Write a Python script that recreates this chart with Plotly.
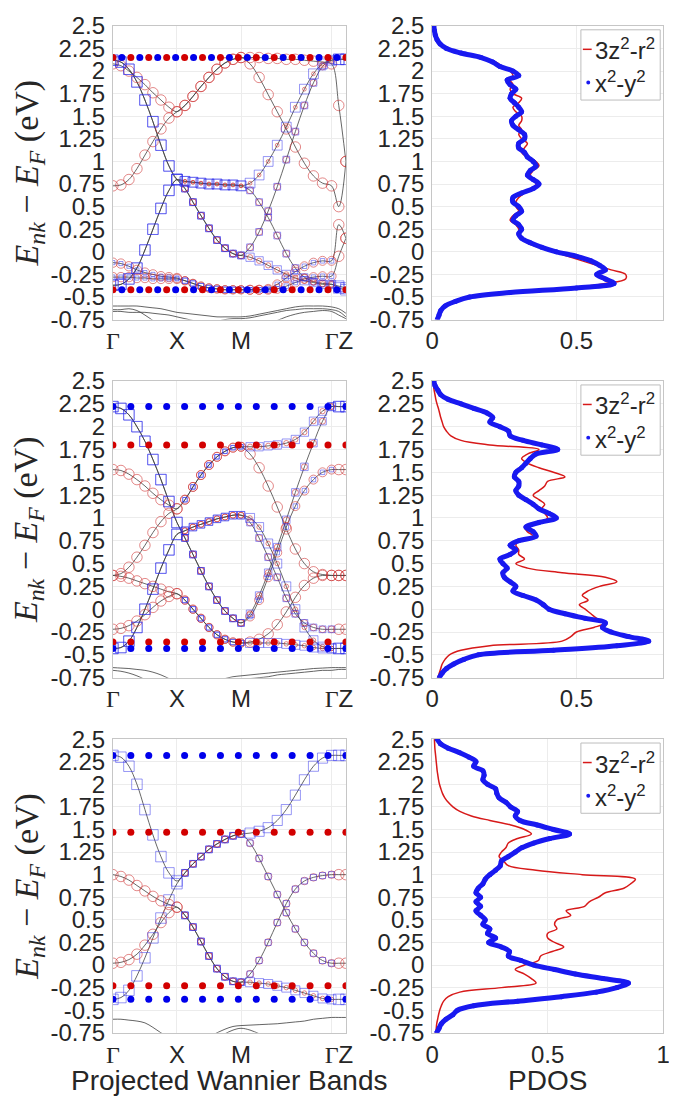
import numpy as np
import plotly.graph_objects as go

PAGE_W, PAGE_H = 677, 1118
BODY = 8                      # default page margin around the plot div
W, H = PAGE_W - BODY, PAGE_H - BODY

# ---------------- k-path Γ-X-M-Γ-Z (9 + 8 + 10 + 2 samples) ----------------
GZ_LEN = 0.224
K_GRID = np.concatenate([np.linspace(0, 1, 9), np.linspace(1, 2, 9)[1:],
                         2 + np.sqrt(2) * np.linspace(0, 1, 11)[1:],
                         2 + np.sqrt(2) + GZ_LEN * np.array([0.5, 1.0])])
K_END = 2 + np.sqrt(2) + GZ_LEN
SEG = np.repeat([0, 1, 2, 3], [9, 8, 10, 2])
GAMMA = '<span style="font-family:Liberation Serif">Γ</span>'
K_TICKS = [0, 1, 2, 2 + np.sqrt(2), K_END]
K_TICK_TEXT = [GAMMA, "X", "M", GAMMA, "Z"]

E_TICKS = [-0.75, -0.5, -0.25, 0, 0.25, 0.5, 0.75, 1, 1.25, 1.5, 1.75, 2, 2.25, 2.5]
E_TICK_TEXT = ["-0.75", "-0.5", "-0.25", "0", "0.25", "0.5", "0.75", "1", "1.25",
               "1.5", "1.75", "2", "2.25", "2.5"]

# ---------------- row 1 bands ----------------
r1_red_a = [0.73, 0.74, 0.8, 0.92, 1.07, 1.22, 1.36, 1.48, 1.55,
            1.62, 1.72, 1.83, 1.93, 2.02, 2.09, 2.13, 2.15,
            2.15, 2.15, 2.14, 2.14, 2.13, 2.13, 2.12, 2.11, 2.1, 2.08,
            1.62, 1.0]
r1_red_b = [2.08, 2.06, 2.0, 1.93, 1.85, 1.76, 1.68, 1.6, 1.55,
            1.62, 1.72, 1.83, 1.93, 2.02, 2.09, 2.13, 2.15,
            2.08, 1.93, 1.74, 1.55, 1.36, 1.16, 0.98, 0.84, 0.76, 0.73,
            0.5, 1.0]
r1_red_c = [-0.12, -0.13, -0.16, -0.2, -0.23, -0.25, -0.27, -0.28, -0.29,
            -0.32, -0.35, -0.38, -0.4, -0.41, -0.42, -0.42, -0.42,
            -0.42, -0.42, -0.41, -0.36, -0.29, -0.22, -0.16, -0.12, -0.1, -0.1,
            0.3, 0.15]
r1_red_d = [-0.28, -0.28, -0.28, -0.29, -0.29, -0.3, -0.3, -0.3, -0.3,
            -0.32, -0.35, -0.38, -0.4, -0.41, -0.42, -0.42, -0.42,
            -0.42, -0.42, -0.42, -0.41, -0.38, -0.34, -0.3, -0.28, -0.27, -0.27,
            -0.05, 0.15]
r1_blue_a = [2.12, 2.1, 2.02, 1.88, 1.68, 1.44, 1.18, 0.95, 0.8,
             0.78, 0.77, 0.76, 0.75, 0.75, 0.74, 0.74, 0.73,
             0.76, 0.85, 1.0, 1.18, 1.38, 1.6, 1.8, 1.97, 2.08, 2.12,
             2.13, 2.13]
r1_blue_b = [2.12, 2.1, 2.02, 1.88, 1.68, 1.44, 1.18, 0.95, 0.8,
             0.7, 0.55, 0.4, 0.26, 0.13, 0.04, -0.02, -0.04,
             0.05, 0.22, 0.45, 0.72, 1.02, 1.33, 1.62, 1.87, 2.05, 2.12,
             2.13, 2.13]
r1_blue_c = [-0.37, -0.36, -0.3, -0.18, 0.02, 0.25, 0.48, 0.68, 0.8,
             0.78, 0.77, 0.76, 0.75, 0.75, 0.74, 0.74, 0.73,
             0.68, 0.55, 0.38, 0.18, -0.02, -0.18, -0.28, -0.33, -0.35, -0.36,
             -0.38, -0.4]
r1_blue_d = [-0.37, -0.36, -0.3, -0.18, 0.02, 0.25, 0.48, 0.68, 0.8,
             0.7, 0.55, 0.4, 0.26, 0.13, 0.04, -0.02, -0.04,
             -0.06, -0.1, -0.15, -0.2, -0.25, -0.29, -0.32, -0.34, -0.36, -0.36,
             -0.4, -0.42]
# 3z2-r2 weight per segment (ΓX, XM, MΓ, ΓZ)
r1_weights = [[1, 1, 1, 1], [1, 1, 1, 1], [0.85, 0.7, 0.8, 1], [0.85, 0.7, 0.8, 1],
              [0, 0.1, 0.1, 0], [0, 0.5, 0.5, 0], [0, 0.1, 0.5, 0], [0, 0.5, 0.3, 0]]
r1_low_a = [-0.6, -0.6, -0.6, -0.6, -0.61, -0.62, -0.63, -0.65, -0.67,
            -0.68, -0.69, -0.7, -0.71, -0.72, -0.72, -0.72, -0.72,
            -0.71, -0.69, -0.67, -0.65, -0.63, -0.61, -0.6, -0.6, -0.6, -0.61,
            -0.63, -0.68]
r1_low_b = [-0.64, -0.64, -0.63, -0.65, -0.7, -0.76, -0.82, -0.88, -0.9,
            -0.9, -0.88, -0.85, -0.8, -0.77, -0.75, -0.74, -0.74,
            -0.73, -0.71, -0.69, -0.67, -0.65, -0.64, -0.63, -0.63, -0.63, -0.64,
            -0.66, -0.72]
r1_low_c = [-0.66, -0.66, -0.67, -0.67, -0.67, -0.68, -0.69, -0.7, -0.72,
            -0.74, -0.76, -0.78, -0.8, -0.82, -0.84, -0.85, -0.86,
            -0.85, -0.82, -0.79, -0.76, -0.72, -0.69, -0.67, -0.66, -0.65, -0.66,
            -0.7, -0.74]
r1_red_levels = [2.15, -0.42]
r1_blue_levels = [2.15, -0.42]

# ---------------- row 2 bands ----------------
r2_band_1 = [2.22, 2.2, 2.13, 2.0, 1.84, 1.64, 1.42, 1.18, 0.95,
             0.78, 0.6, 0.42, 0.25, 0.1, -0.02, -0.1, -0.15,
             -0.05, 0.15, 0.4, 0.68, 0.98, 1.28, 1.56, 1.82, 2.06, 2.22,
             2.22, 2.22]
r2_band_2 = [2.22, 2.2, 2.13, 2.0, 1.84, 1.64, 1.42, 1.18, 0.95,
             0.78, 0.6, 0.42, 0.25, 0.1, -0.02, -0.1, -0.15,
             -0.08, 0.1, 0.35, 0.62, 0.9, 1.13, 1.3, 1.42, 1.5, 1.53,
             1.53, 1.53]
r2_band_3 = [-0.43, -0.42, -0.35, -0.2, 0.0, 0.22, 0.45, 0.65, 0.82,
             0.86, 0.9, 0.93, 0.96, 0.99, 1.01, 1.03, 1.03,
             0.95, 0.78, 0.57, 0.35, 0.12, -0.05, -0.15, -0.2, -0.22, -0.22,
             -0.22, -0.22]
r2_band_4 = [-0.43, -0.42, -0.35, -0.2, 0.0, 0.22, 0.45, 0.65, 0.82,
             0.86, 0.9, 0.93, 0.96, 0.99, 1.01, 1.03, 1.03,
             1.0, 0.9, 0.72, 0.5, 0.25, 0.0, -0.2, -0.34, -0.41, -0.43,
             -0.43, -0.43]
r2_band_5 = [1.53, 1.52, 1.48, 1.42, 1.35, 1.27, 1.2, 1.14, 1.1,
             1.2, 1.34, 1.47, 1.58, 1.67, 1.73, 1.77, 1.78,
             1.78, 1.78, 1.79, 1.8, 1.82, 1.86, 1.94, 2.06, 2.17, 2.22,
             2.22, 2.22]
r2_band_6 = [0.37, 0.39, 0.46, 0.57, 0.7, 0.84, 0.96, 1.05, 1.1,
             1.2, 1.34, 1.47, 1.58, 1.67, 1.73, 1.77, 1.78,
             1.7, 1.55, 1.35, 1.12, 0.88, 0.66, 0.5, 0.41, 0.38, 0.37,
             0.37, 0.37]
r2_band_7 = [0.37, 0.36, 0.34, 0.31, 0.28, 0.25, 0.22, 0.19, 0.17,
             0.1, 0.0, -0.1, -0.2, -0.28, -0.33, -0.36, -0.37,
             -0.37, -0.37, -0.37, -0.37, -0.38, -0.39, -0.4, -0.42, -0.43, -0.43,
             -0.43, -0.43]
r2_band_8 = [-0.22, -0.21, -0.18, -0.13, -0.06, 0.02, 0.09, 0.14, 0.17,
             0.1, 0.0, -0.1, -0.2, -0.28, -0.33, -0.36, -0.37,
             -0.36, -0.33, -0.27, -0.17, -0.03, 0.13, 0.26, 0.34, 0.37, 0.37,
             0.37, 0.37]
r2_weights = [[0, 0.5, 0.4, 0], [0, 0.5, 0.8, 1], [0, 0.4, 0.5, 1], [0, 0.4, 0.2, 0],
              [1, 0.8, 0.3, 0], [1, 0.8, 1, 1], [1, 0.7, 0.2, 0], [1, 0.7, 1, 1]]
r2_low_a = [-0.64, -0.645, -0.65, -0.66, -0.67, -0.69, -0.72, -0.76, -0.8,
            -0.82, -0.82, -0.81, -0.8, -0.78, -0.76, -0.74, -0.73,
            -0.72, -0.71, -0.7, -0.69, -0.68, -0.67, -0.66, -0.65, -0.645, -0.64,
            -0.64, -0.64]
r2_low_b = [-0.67, -0.68, -0.7, -0.73, -0.77, -0.82, -0.86, -0.9, -0.92,
            -0.92, -0.9, -0.87, -0.84, -0.81, -0.78, -0.77, -0.76,
            -0.76, -0.75, -0.74, -0.72, -0.71, -0.7, -0.69, -0.68, -0.67, -0.67,
            -0.66, -0.66]
r2_red_levels = [1.80, -0.36]
r2_blue_levels = [2.22, -0.43]

# ---------------- row 3 bands ----------------
r3_band_1 = [2.32, 2.3, 2.2, 2.0, 1.72, 1.44, 1.2, 1.02, 0.93,
             1.02, 1.12, 1.2, 1.28, 1.34, 1.39, 1.43, 1.45,
             1.46, 1.48, 1.52, 1.6, 1.72, 1.88, 2.05, 2.2, 2.29, 2.32,
             2.32, 2.32]
r3_band_2 = [-0.38, -0.36, -0.28, -0.12, 0.08, 0.3, 0.52, 0.72, 0.9,
             1.02, 1.12, 1.2, 1.28, 1.34, 1.39, 1.43, 1.45,
             1.35, 1.18, 0.98, 0.78, 0.58, 0.4, 0.25, 0.13, 0.05, 0.02,
             0.02, 0.02]
r3_band_3 = [1.0, 0.98, 0.94, 0.88, 0.82, 0.76, 0.71, 0.67, 0.64,
             0.55, 0.42, 0.26, 0.1, -0.04, -0.13, -0.18, -0.19,
             -0.1, 0.05, 0.25, 0.47, 0.68, 0.84, 0.93, 0.97, 0.99, 1.0,
             1.0, 1.0]
r3_band_4 = [0.02, 0.03, 0.06, 0.12, 0.22, 0.34, 0.47, 0.58, 0.64,
             0.55, 0.42, 0.26, 0.1, -0.04, -0.13, -0.18, -0.19,
             -0.19, -0.2, -0.21, -0.23, -0.25, -0.28, -0.31, -0.34, -0.37, -0.38,
             -0.38, -0.38]
r3_weights = [[0, 0.5, 0.05, 0], [0, 0.5, 0.6, 1], [1, 0.5, 0.6, 1], [1, 0.5, 0.2, 0]]
r3_low_a = [-0.6, -0.6, -0.61, -0.62, -0.64, -0.69, -0.75, -0.8, -0.85,
            -0.87, -0.86, -0.83, -0.79, -0.75, -0.71, -0.68, -0.67,
            -0.665, -0.66, -0.655, -0.65, -0.64, -0.63, -0.62, -0.6, -0.59, -0.58,
            -0.58, -0.58]
r3_low_b = [-0.95, -0.95, -0.95, -0.95, -0.95, -0.95, -0.95, -0.95, -0.95,
            -0.9, -0.9, -0.88, -0.84, -0.8, -0.76, -0.72, -0.7,
            -0.72, -0.76, -0.8, -0.85, -0.9, -0.95, -0.95, -0.95, -0.95, -0.95,
            -0.95, -0.95]
r3_red_levels = [1.47, -0.23]
r3_blue_levels = [2.32, -0.38]

# ---------------- PDOS (energy grid 2.5 -> -0.75, step 0.05) ----------------
E_DOS = np.round(np.arange(2.5, -0.7501, -0.05), 2)
dos1_z2 = [0.006, 0.008, 0.011, 0.017, 0.028, 0.05, 0.1, 0.17, 0.22, 0.245,
           0.27, 0.28, 0.27, 0.28, 0.27, 0.28, 0.31, 0.3, 0.28, 0.29,
           0.31, 0.31, 0.3, 0.31, 0.3, 0.31, 0.33, 0.32, 0.31, 0.33,
           0.36, 0.37, 0.35, 0.34, 0.35, 0.36, 0.35, 0.32, 0.3, 0.29,
           0.29, 0.3, 0.28, 0.27, 0.29, 0.3, 0.3, 0.31, 0.33, 0.37,
           0.42, 0.47, 0.52, 0.57, 0.62, 0.67, 0.67, 0.6, 0.48, 0.26,
           0.125, 0.075, 0.045, 0.03, 0.022, 0.017]
dos1_x2 = [0.006, 0.008, 0.011, 0.017, 0.028, 0.05, 0.1, 0.17, 0.21, 0.235,
           0.28, 0.3, 0.26, 0.27, 0.29, 0.275, 0.27, 0.285, 0.3, 0.31,
           0.29, 0.275, 0.28, 0.3, 0.32, 0.32, 0.3, 0.3, 0.32, 0.33,
           0.35, 0.36, 0.34, 0.33, 0.35, 0.37, 0.35, 0.31, 0.28, 0.28,
           0.3, 0.31, 0.29, 0.28, 0.3, 0.31, 0.3, 0.31, 0.34, 0.38,
           0.43, 0.5, 0.55, 0.58, 0.6, 0.57, 0.6, 0.63, 0.5, 0.27,
           0.13, 0.08, 0.045, 0.03, 0.024, 0.018]
dos2_z2 = [0.004, 0.005, 0.007, 0.01, 0.013, 0.017, 0.022, 0.026, 0.03, 0.035,
           0.04, 0.05, 0.065, 0.1, 0.2, 0.37, 0.33, 0.31, 0.33, 0.37,
           0.42, 0.46, 0.4, 0.39, 0.37, 0.35, 0.37, 0.39, 0.38, 0.39,
           0.4, 0.37, 0.32, 0.33, 0.35, 0.3, 0.29, 0.3, 0.3, 0.32,
           0.29, 0.33, 0.45, 0.6, 0.64, 0.58, 0.54, 0.52, 0.54, 0.51,
           0.53, 0.55, 0.57, 0.6, 0.56, 0.5, 0.48, 0.45, 0.2, 0.1,
           0.06, 0.045, 0.035, 0.03, 0.025, 0.02]
dos2_x2 = [0.006, 0.01, 0.02, 0.03, 0.055, 0.1, 0.145, 0.19, 0.21, 0.2,
           0.235, 0.265, 0.27, 0.315, 0.38, 0.435, 0.36, 0.34, 0.325, 0.31,
           0.29, 0.285, 0.3, 0.3, 0.29, 0.3, 0.325, 0.35, 0.37, 0.405,
           0.43, 0.37, 0.325, 0.35, 0.36, 0.3, 0.27, 0.29, 0.27, 0.235,
           0.245, 0.26, 0.245, 0.25, 0.27, 0.29, 0.28, 0.315, 0.36, 0.385,
           0.405, 0.46, 0.53, 0.6, 0.59, 0.62, 0.68, 0.75, 0.64, 0.42,
           0.16, 0.11, 0.075, 0.05, 0.035, 0.025]
dos3_z2 = [0.01, 0.011, 0.012, 0.014, 0.016, 0.018, 0.02, 0.022, 0.025, 0.028,
           0.032, 0.038, 0.045, 0.055, 0.07, 0.09, 0.12, 0.17, 0.25, 0.34,
           0.4, 0.43, 0.37, 0.33, 0.32, 0.3, 0.29, 0.31, 0.33, 0.45,
           0.65, 0.88, 0.86, 0.83, 0.75, 0.72, 0.68, 0.66, 0.58, 0.6,
           0.54, 0.53, 0.54, 0.5, 0.5, 0.53, 0.57, 0.52, 0.47, 0.46,
           0.4, 0.36, 0.4, 0.43, 0.45, 0.3, 0.12, 0.07, 0.05, 0.04,
           0.033, 0.028, 0.024, 0.02, 0.018, 0.015]
dos3_x2 = [0.022, 0.036, 0.07, 0.12, 0.16, 0.19, 0.18, 0.22, 0.225, 0.22,
           0.24, 0.275, 0.28, 0.29, 0.32, 0.34, 0.37, 0.36, 0.38, 0.455,
           0.525, 0.595, 0.51, 0.44, 0.39, 0.36, 0.33, 0.3, 0.295, 0.275,
           0.25, 0.23, 0.22, 0.2, 0.19, 0.21, 0.19, 0.21, 0.19, 0.21,
           0.23, 0.22, 0.25, 0.24, 0.275, 0.245, 0.3, 0.335, 0.33, 0.385,
           0.44, 0.53, 0.62, 0.74, 0.85, 0.8, 0.71, 0.56, 0.37, 0.18,
           0.11, 0.09, 0.06, 0.04, 0.03, 0.02]
DOS_XMAX = [0.8, 0.8, 1.0]
DOS_XTICKS = [[0, 0.5], [0, 0.5], [0, 0.5, 1]]

# ---------------- figure geometry (page pixels) ----------------
LEFT_X = (108, 346)
RIGHT_X = (434, 670)
ROWS_Y = [(12, 313), (376, 680), (743, 1044)]

RED = "rgb(215,25,25)"
BLUE = "rgb(25,25,240)"
FONT = "Liberation Sans, Arial, Helvetica"
TXT = "#262626"
TICK_SIZE = 24

fig = go.Figure()


def add_band_panel(xa, ya, bands, weights, lows, red_lv, blue_lv, alternate):
    for b in lows:
        fig.add_trace(go.Scatter(x=K_GRID, y=b, mode="lines", xaxis=xa, yaxis=ya,
                                 line=dict(color="#3c3c3c", width=0.8, shape="spline"),
                                 showlegend=False, hoverinfo="skip"))
    for b in bands:
        fig.add_trace(go.Scatter(x=K_GRID, y=b, mode="lines", xaxis=xa, yaxis=ya,
                                 line=dict(color="#404040", width=0.8, shape="spline"),
                                 showlegend=False, hoverinfo="skip"))
    for b, w in zip(bands, weights):
        wr = np.array(w, dtype=float)[SEG]
        size = np.where(wr > 0.08, 3 + 7.5 * wr, 0)
        fig.add_trace(go.Scatter(x=K_GRID, y=b, mode="markers", xaxis=xa, yaxis=ya,
                                 marker=dict(symbol="circle-open", size=size,
                                             color="rgba(205,45,45,0.8)", line=dict(width=1)),
                                 showlegend=False, hoverinfo="skip"))
    for b, w in zip(bands, weights):
        wb = 1 - np.array(w, dtype=float)[SEG]
        size = np.where(wb > 0.08, 3 + 7.5 * wb, 0)
        fig.add_trace(go.Scatter(x=K_GRID, y=b, mode="markers", xaxis=xa, yaxis=ya,
                                 marker=dict(symbol="square-open", size=size,
                                             color="rgba(45,45,235,0.7)", line=dict(width=1)),
                                 showlegend=False, hoverinfo="skip"))
    if alternate:
        grid = np.linspace(0, K_END, 27)
        gr, gb = grid[0::2], grid[1::2]
    else:
        gr = gb = np.linspace(0, K_END, 14)
    for lv in red_lv:
        fig.add_trace(go.Scatter(x=gr, y=[lv] * len(gr), mode="markers", xaxis=xa, yaxis=ya,
                                 marker=dict(symbol="circle", size=7, color="rgb(210,0,0)"),
                                 showlegend=False, hoverinfo="skip"))
    for lv in blue_lv:
        fig.add_trace(go.Scatter(x=gb, y=[lv] * len(gb), mode="markers", xaxis=xa, yaxis=ya,
                                 marker=dict(symbol="circle", size=7, color="rgb(0,0,235)"),
                                 showlegend=False, hoverinfo="skip"))


def add_dos_panel(xa, ya, z2, x2):
    fig.add_trace(go.Scatter(x=z2, y=E_DOS, mode="lines", xaxis=xa, yaxis=ya,
                             line=dict(color=RED, width=1.5, shape="spline"),
                             showlegend=False, hoverinfo="skip"))
    fig.add_trace(go.Scatter(x=x2, y=E_DOS, mode="lines+markers", xaxis=xa, yaxis=ya,
                             line=dict(color=BLUE, width=5, shape="spline"),
                             marker=dict(size=5, color=BLUE),
                             showlegend=False, hoverinfo="skip"))


band_sets = [
    ([r1_red_a, r1_red_b, r1_red_c, r1_red_d, r1_blue_a, r1_blue_b, r1_blue_c, r1_blue_d],
     r1_weights, [r1_low_a, r1_low_b, r1_low_c], r1_red_levels, r1_blue_levels, True),
    ([r2_band_1, r2_band_2, r2_band_3, r2_band_4, r2_band_5, r2_band_6, r2_band_7, r2_band_8],
     r2_weights, [r2_low_a, r2_low_b], r2_red_levels, r2_blue_levels, False),
    ([r3_band_1, r3_band_2, r3_band_3, r3_band_4],
     r3_weights, [r3_low_a, r3_low_b], r3_red_levels, r3_blue_levels, False),
]
dos_sets = [(dos1_z2, dos1_x2), (dos2_z2, dos2_x2), (dos3_z2, dos3_x2)]

axis_common = dict(showline=True, mirror=True, linecolor="#c6c6c6", linewidth=1,
                   showgrid=True, gridcolor="#ececec", gridwidth=1, zeroline=False,
                   ticks="", ticklen=0, tickangle=0,
                   tickfont=dict(family=FONT, size=TICK_SIZE, color=TXT))

layout = dict(width=W, height=H, margin=dict(l=0, r=0, t=0, b=0), autosize=False,
              paper_bgcolor="white", plot_bgcolor="white", showlegend=False)
shapes, annotations = [], []


def px(xp):
    return (xp - BODY) / W


def py(yp):
    return 1 - (yp - BODY) / H


for r in range(3):
    top, bot = ROWS_Y[r]
    li, ri = 2 * r + 1, 2 * r + 2
    xa_l, xa_r = f"x{li}", f"x{ri}"
    ya_l, ya_r = f"y{li}", f"y{ri}"
    bands, weights, lows, rl, bl, alt = band_sets[r]
    add_band_panel(xa_l, ya_l, bands, weights, lows, rl, bl, alt)
    add_dos_panel(xa_r, ya_r, *dos_sets[r])

    ydom = [py(bot), py(top)]
    layout[f"xaxis{li}"] = dict(axis_common, domain=[px(LEFT_X[0]), px(LEFT_X[1])],
                                range=[0, K_END], anchor=ya_l, tickmode="array",
                                tickvals=K_TICKS, ticktext=K_TICK_TEXT, ticklabelstandoff=0)
    layout[f"yaxis{li}"] = dict(axis_common, domain=ydom, range=[-0.75, 2.5], anchor=xa_l,
                                tickmode="array", tickvals=E_TICKS, ticktext=E_TICK_TEXT,
                                ticklabelstandoff=2)
    dt = DOS_XTICKS[r]
    layout[f"xaxis{ri}"] = dict(axis_common, domain=[px(RIGHT_X[0]), px(RIGHT_X[1])],
                                range=[0, DOS_XMAX[r]], anchor=ya_r, tickmode="array",
                                tickvals=dt, ticktext=[f"{v:g}" for v in dt], ticklabelstandoff=0)
    layout[f"yaxis{ri}"] = dict(axis_common, domain=ydom, range=[-0.75, 2.5], anchor=xa_r,
                                tickmode="array", tickvals=E_TICKS, ticktext=E_TICK_TEXT,
                                ticklabelstandoff=2)

    # y-axis title
    annotations.append(dict(x=px(22), y=py((top + bot) / 2), xref="paper", yref="paper",
                            xanchor="center", yanchor="middle",
                            text="<i>E</i><sub><i>nk</i></sub> − <i>E</i><sub><i>F</i></sub> (eV)",
                            textangle=-90, showarrow=False,
                            font=dict(family="Liberation Serif, DejaVu Serif", size=34, color=TXT)))

    # legend box (drawn)
    lx0, lx1 = 586, 667
    ly0, ly1 = top + 4, top + 76
    shapes.append(dict(type="rect", xref="paper", yref="paper", x0=px(lx0), x1=px(lx1),
                       y0=py(ly1), y1=py(ly0), line=dict(color="#bdbdbd", width=1),
                       fillcolor="white", layer="above"))
    e1, e2 = top + 24, top + 58
    shapes.append(dict(type="line", xref="paper", yref="paper", x0=px(588), x1=px(597),
                       y0=py(e1), y1=py(e1), line=dict(color=RED, width=1.5), layer="above"))
    shapes.append(dict(type="circle", xref="paper", yref="paper", x0=px(591.5), x1=px(595.5),
                       y0=py(e2 + 2), y1=py(e2 - 2), line=dict(color=BLUE, width=0),
                       fillcolor=BLUE, layer="above"))
    annotations.append(dict(x=px(598), y=py(e1), xref="paper", yref="paper", xanchor="left",
                            yanchor="middle", text="3z<sup>2</sup>-r<sup>2</sup>", showarrow=False,
                            font=dict(family=FONT, size=TICK_SIZE, color=TXT)))
    annotations.append(dict(x=px(598), y=py(e2), xref="paper", yref="paper", xanchor="left",
                            yanchor="middle", text="x<sup>2</sup>-y<sup>2</sup>", showarrow=False,
                            font=dict(family=FONT, size=TICK_SIZE, color=TXT)))

annotations.append(dict(x=px((LEFT_X[0] + LEFT_X[1]) / 2), y=py(1093), xref="paper", yref="paper",
                        xanchor="center", yanchor="middle",
                        text="Projected Wannier Bands", showarrow=False,
                        font=dict(family=FONT, size=28, color=TXT)))
annotations.append(dict(x=px((RIGHT_X[0] + RIGHT_X[1]) / 2), y=py(1093), xref="paper", yref="paper",
                        xanchor="center", yanchor="middle",
                        text="PDOS", showarrow=False, font=dict(family=FONT, size=28, color=TXT)))

layout["shapes"] = shapes
layout["annotations"] = annotations
fig.update_layout(**layout)
fig.write_html("out.html")
